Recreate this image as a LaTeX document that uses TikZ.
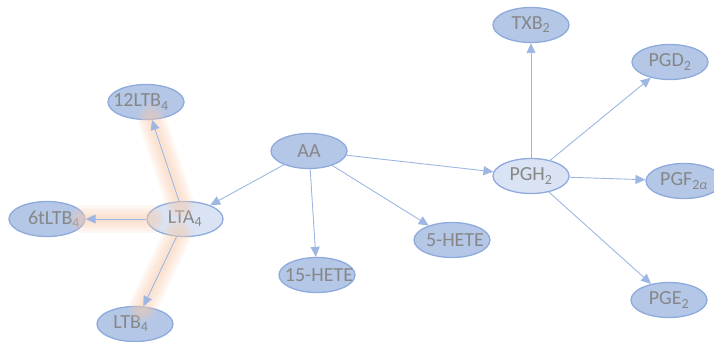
\documentclass[tikz,border=0pt]{standalone}
\usepackage{fontspec}
\setmainfont{Carlito}
\usetikzlibrary{shapes.geometric,arrows.meta}
\definecolor{nfill}{HTML}{B4C7E7}
\definecolor{lfill}{HTML}{DAE3F3}
\definecolor{nborder}{HTML}{8FAADC}
\definecolor{ntext}{HTML}{878787}
\definecolor{edgec}{HTML}{9DB7E2}
\definecolor{glowb}{HTML}{F8CBAD}
\newcommand{\lbl}[2][0pt]{\makebox[0pt][c]{\hspace*{#1}#2}}
\tikzset{
  mol/.style={ellipse, draw=nborder, line width=1.3pt, fill=nfill, text=ntext,
    minimum width=76pt, minimum height=35pt, inner sep=0pt,
    font=\fontsize{20}{22}\selectfont},
  hub/.style={mol, fill=lfill},
  conv/.style={draw=edgec, line width=0.9pt, -{Triangle[length=10pt,width=9pt]}},
  glow/.style={line cap=round, shorten <=-4pt, shorten >=-2pt, glowb},
}
\begin{document}
\begin{tikzpicture}[x=1pt,y=-1pt]
\useasboundingbox (0,0) rectangle (714,341);
% nodes
\node[mol] (aa) at (309,151) {\lbl{AA}};
\node[hub] (lta) at (185,219) {\lbl{LTA\textsubscript{4}}};
\node[mol] (l12) at (146,102) {\lbl[-10pt]{12LTB\textsubscript{4}}};
\node[mol] (l6) at (47,219) {\lbl[14pt]{6tLTB\textsubscript{4}}};
\node[mol] (ltb) at (135,324) {\lbl[-8pt]{LTB\textsubscript{4}}};
\node[mol] (h15) at (317,275) {\lbl[4pt]{15-HETE}};
\node[mol] (h5) at (452,240) {\lbl[6pt]{5-HETE}};
\node[hub] (pgh) at (531,176) {\lbl{PGH\textsubscript{2}}};
\node[mol] (txb) at (531,25) {\lbl{TXB\textsubscript{2}}};
\node[mol] (pgd) at (670,62) {\lbl{PGD\textsubscript{2}}};
\node[mol] (pgf) at (684,181) {\lbl{PGF\textsubscript{2\textit{α}}}};
\node[mol] (pge) at (669,300) {\lbl{PGE\textsubscript{2}}};
% glow
\foreach \t in {l12,l6,ltb}{
  \foreach \w in {28,23,18,13,8}{
    \draw[glow, line width=\w pt, opacity=0.14] (lta) -- (\t);
  }
}
% connectors
\draw[conv] (aa) -- (lta);
\draw[conv] (aa) -- (h15);
\draw[conv] (aa) -- (h5);
\draw[conv] (aa) -- (pgh);
\draw[conv] (lta) -- (l12);
\draw[conv] (lta) -- (l6);
\draw[conv] (lta) -- (ltb);
\draw[conv] (pgh) -- (txb);
\draw[conv] (pgh) -- (pgd);
\draw[conv] (pgh) -- (pgf);
\draw[conv] (pgh) -- (pge);
\end{tikzpicture}
\end{document}
